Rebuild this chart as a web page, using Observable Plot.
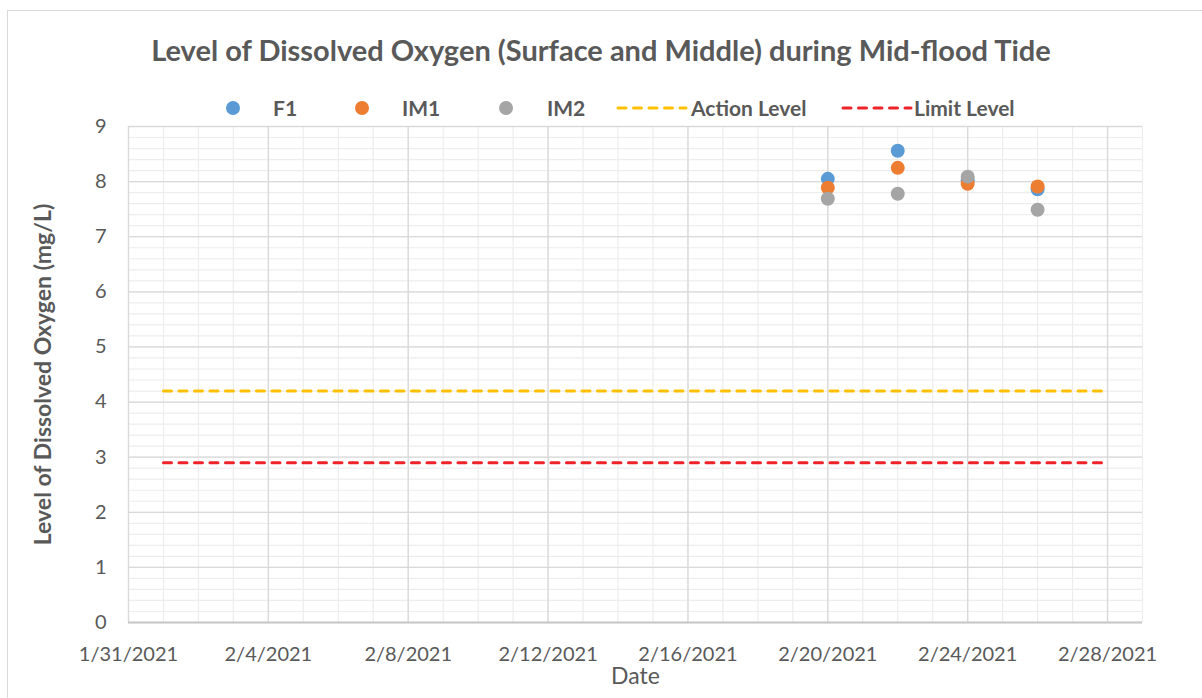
<!DOCTYPE html>
<html>
<head>
<meta charset="utf-8">
<script src="https://cdn.jsdelivr.net/npm/d3@7"></script>
<script src="https://cdn.jsdelivr.net/npm/@observablehq/plot@0.6"></script>
<style>
  html, body { margin: 0; padding: 0; background: #fff; }
  body { width: 1202px; height: 698px; overflow: hidden; position: relative; font-family: Lato, "Open Sans", sans-serif; color: #595959; }
  #frame { position: absolute; left: 7px; top: 10px; width: 1200px; height: 720px; border: 1.5px solid #d9d9d9; box-sizing: border-box; }
  #title { position: absolute; left: 0; top: 33px; width: 1202px; text-align: center; font-size: 29px; font-weight: bold; line-height: 34px; }
  .leg { position: absolute; top: 97px; font-size: 21px; font-weight: bold; line-height: 22px; white-space: nowrap; }
  .sw { position: absolute; }
  #chart { position: absolute; left: 0; top: 116px; }
</style>
</head>
<body>
<div id="frame"></div>
<div id="title"></div>
<div id="legend"></div>
<div id="chart"></div>
<script>
// ---- data ----
const title = "Level of Dissolved Oxygen (Surface and Middle) during Mid-flood Tide";
const yTitle = "Level of Dissolved Oxygen (mg/L)";
const xTitle = "Date";
const sampleDates = ["2021-02-20", "2021-02-22", "2021-02-24", "2021-02-26"];
const seriesNames = ["F1", "IM1", "IM2"];
const seriesColors = ["#5B9BD5", "#ED7D31", "#A5A5A5"];
const F1  = [8.05, 8.56, 8.02, 7.86];
const IM1 = [7.89, 8.25, 7.96, 7.91];
const IM2 = [7.69, 7.78, 8.09, 7.49];
const levelNames = ["Action Level", "Limit Level"];
const levelColors = ["#FFC000", "#EE2229"];
const levelDates = ["2021-02-01", "2021-02-28"];
const levelValues = [4.2, 2.9];
const xDomain = ["2021-01-31", "2021-03-01"];
const xTickDates = ["2021-01-31", "2021-02-04", "2021-02-08", "2021-02-12", "2021-02-16", "2021-02-20", "2021-02-24", "2021-02-28"];
const yTicks = [0, 1, 2, 3, 4, 5, 6, 7, 8, 9];

// ---- build ----
const P = s => new Date(s + "T00:00:00Z");
const seriesValues = [F1, IM1, IM2];
const points = [];
seriesNames.forEach((name, si) => {
  sampleDates.forEach((d, i) => points.push({series: name, date: P(d), value: seriesValues[si][i]}));
});
const levels = [];
levelNames.forEach((name, li) => {
  levelDates.forEach(d => levels.push({series: name, date: P(d), value: levelValues[li]}));
});
const xStart = P(xDomain[0]), xEnd = P(xDomain[1]);
const majorX = xTickDates.map(P);
const minorX = d3.utcDay.range(xStart, d3.utcDay.offset(xEnd, 1));
const minorY = d3.range(0, 46).map(i => i / 5);
const fmt = d => `${d.getUTCMonth() + 1}/${d.getUTCDate()}/${d.getUTCFullYear()}`;

document.getElementById("title").textContent = title;

// legend (HTML above the SVG)
const legend = document.getElementById("legend");
const dotX = [226, 355, 499];
const textX = [273, 402, 547];
seriesNames.forEach((n, i) => {
  const dot = document.createElement("div");
  dot.className = "sw";
  dot.style.cssText = `left:${dotX[i]}px;top:101px;width:14px;height:14px;border-radius:50%;background:${seriesColors[i]};`;
  legend.appendChild(dot);
  const t = document.createElement("div");
  t.className = "leg"; t.style.left = textX[i] + "px"; t.textContent = n;
  legend.appendChild(t);
});
const lineX = [616, 841];
const ltextX = [691, 914];
levelNames.forEach((n, i) => {
  const s = document.createElementNS("http://www.w3.org/2000/svg", "svg");
  s.setAttribute("width", 72); s.setAttribute("height", 10);
  s.setAttribute("class", "sw");
  s.style.left = lineX[i] + "px"; s.style.top = "103px";
  s.innerHTML = `<line x1="2" x2="70" y1="5" y2="5" stroke="${levelColors[i]}" stroke-width="3" stroke-linecap="round" stroke-dasharray="8 7.5"/>`;
  legend.appendChild(s);
  const t = document.createElement("div");
  t.className = "leg"; t.style.left = ltextX[i] + "px"; t.textContent = n;
  legend.appendChild(t);
});

const chart = Plot.plot({
  width: 1202,
  height: 582,
  marginTop: 10,
  marginBottom: 76,
  marginLeft: 128,
  marginRight: 60,
  style: {fontFamily: "Lato, 'Open Sans', sans-serif", fontSize: "20px", color: "#595959", background: "transparent", overflow: "visible"},
  x: {type: "utc", domain: [xStart, xEnd]},
  y: {domain: [0, 9]},
  color: {domain: levelNames, range: levelColors},
  marks: [
    Plot.ruleY(minorY, {stroke: "#ededed", strokeWidth: 1.2}),
    Plot.ruleX(minorX, {stroke: "#ededed", strokeWidth: 1.2}),
    Plot.ruleY(yTicks, {stroke: "#d9d9d9", strokeWidth: 1.3}),
    Plot.ruleX(majorX, {stroke: "#d9d9d9", strokeWidth: 1.3}),
    Plot.ruleY([0], {stroke: "#c8c8c8", strokeWidth: 1.8}),
    Plot.axisX({ticks: majorX, tickFormat: fmt, tickSize: 0, tickPadding: 24, label: null, fontSize: 20}),
    Plot.axisY({ticks: yTicks, tickSize: 0, tickPadding: 22, label: null, fontSize: 20}),
    Plot.text([xTitle], {frameAnchor: "bottom", dy: 61, fontSize: 23, fill: "#595959"}),
    Plot.text([yTitle], {frameAnchor: "left", textAnchor: "middle", dx: -85, rotate: -90, fontSize: 23, fontWeight: "bold", fill: "#595959"}),
    Plot.line(levels, {x: "date", y: "value", z: "series", stroke: "series", strokeWidth: 3, strokeDasharray: "8 7.5", strokeLinecap: "round"}),
    Plot.dot(points, {x: "date", y: "value", r: 7, fill: d => seriesColors[seriesNames.indexOf(d.series)], stroke: null})
  ]
});
document.getElementById("chart").appendChild(chart);
</script>
</body>
</html>
